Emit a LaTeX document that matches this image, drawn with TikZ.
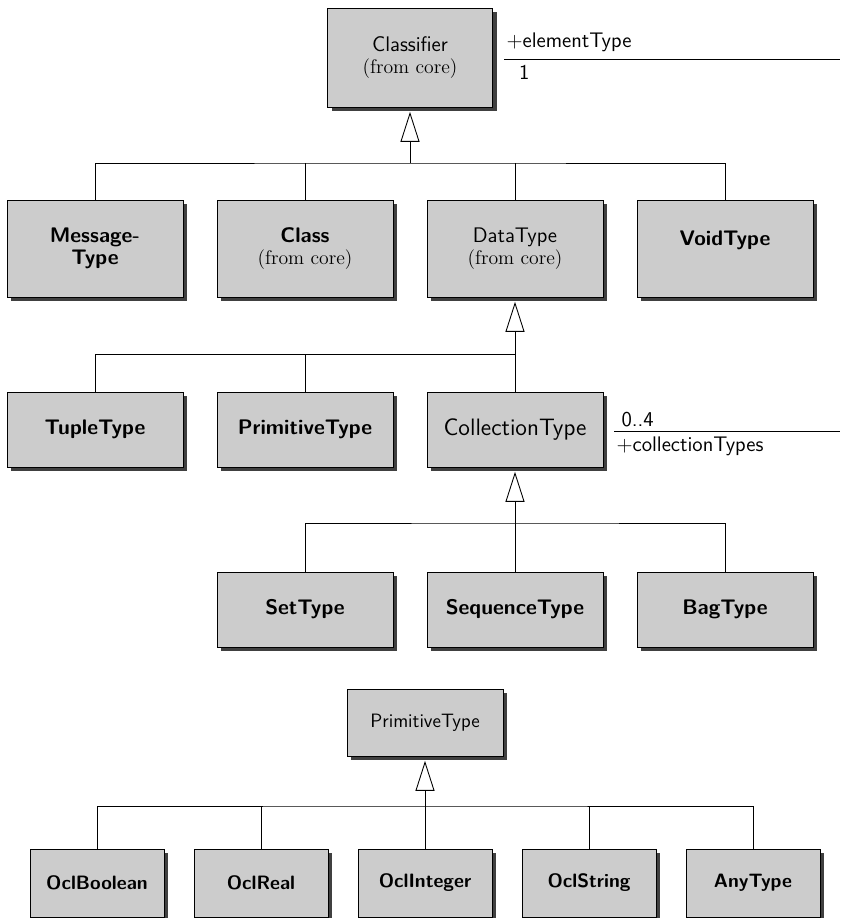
\documentclass[tikz,border=0pt]{standalone}
\usetikzlibrary{arrows.meta,shadows}

\newcommand{\fromcore}{{\fontsize{11.2}{12.5}\selectfont\rmfamily (from core)}}

\begin{document}
\begin{tikzpicture}[
    umlclass/.style={draw,fill=black!20,line width=0.5pt,align=center,inner sep=0pt,
        font=\fontsize{12}{12.5}\selectfont\sffamily,
        drop shadow={shadow xshift=0.085cm,shadow yshift=-0.085cm,fill=black!75,opacity=1}},
    bigbox/.style={umlclass,minimum width=3.52cm,minimum height=1.94cm},
    midbox/.style={umlclass,minimum width=3.52cm,minimum height=1.5cm},
    smallbox/.style={umlclass,minimum width=2.68cm,minimum height=1.36cm,
        font=\fontsize{11}{12}\selectfont\sffamily},
    gen/.style={-{Triangle[open,width=0.38cm,length=0.6cm]},line width=0.5pt,shorten >=2.5pt},
    assoc/.style={line width=0.5pt},
    role/.style={font=\fontsize{12}{13}\selectfont\sffamily,inner sep=1pt}]
    \useasboundingbox (0,0) rectangle (16.8,-18.36);
    %% top
    \node[umlclass,minimum width=3.3cm,minimum height=1.98cm] (classifier) at (8.2,-1.15)
        {Classifier\\\fromcore};
    %% second row
    \node[bigbox] (msg) at (1.9,-4.97) {\bfseries Message-\\\bfseries Type};
    \node[bigbox] (cls) at (6.1,-4.97) {\bfseries Class\\\fromcore};
    \node[bigbox] (dt) at (10.3,-4.97) {DataType\\\fromcore};
    \node[bigbox,text depth=0.4cm] (void) at (14.5,-4.97) {\bfseries VoidType};
    %% third row
    \node[midbox] (tuple) at (1.9,-8.59) {\bfseries TupleType};
    \node[midbox] (prim) at (6.1,-8.59) {\bfseries PrimitiveType};
    \node[midbox,font=\fontsize{13.5}{15}\selectfont\sffamily] (coll) at (10.3,-8.59) {CollectionType};
    %% collections
    \node[midbox] (set) at (6.1,-12.19) {\bfseries SetType};
    \node[midbox] (seq) at (10.3,-12.19) {\bfseries SequenceType};
    \node[midbox] (bag) at (14.5,-12.19) {\bfseries BagType};
    %% primitive types
    \node[smallbox,minimum width=3.12cm,minimum height=1.34cm] (prim2) at (8.5,-14.45)
        {PrimitiveType};
    \node[smallbox] (bool) at (1.94,-17.66) {\bfseries OclBoolean};
    \node[smallbox] (real) at (5.22,-17.66) {\bfseries OclReal};
    \node[smallbox] (int) at (8.5,-17.66) {\bfseries OclInteger};
    \node[smallbox] (str) at (11.78,-17.66) {\bfseries OclString};
    \node[smallbox] (any) at (15.06,-17.66) {\bfseries AnyType};

    %% generalizations
    \coordinate (j1) at (8.2,-3.26);
    \draw[gen] (j1) -- (classifier.south);
    \draw (msg.north) |- (j1) -| (void.north);
    \draw (cls.north) -- (cls.north |- j1);
    \draw (dt.north) -- (dt.north |- j1);

    \coordinate (j2) at (10.3,-7.08);
    \draw[gen] (j2) -- (dt.south);
    \draw (tuple.north) |- (j2) -- (coll.north);
    \draw (prim.north) -- (prim.north |- j2);

    \coordinate (j3) at (10.3,-10.46);
    \draw[gen] (j3) -- (coll.south);
    \draw (set.north) |- (j3) -| (bag.north);
    \draw (seq.north) -- (j3);

    \coordinate (j4) at (8.5,-16.12);
    \draw[gen] (j4) -- (prim2.south);
    \draw (bool.north) |- (j4) -| (any.north);
    \foreach \n in {real,int,str}
        \draw (\n.north) -- (\n.north |- j4);

    %% associations
    \coordinate (rim) at (16.8,0);
    \coordinate (a1) at ([xshift=0.23cm,yshift=-0.03cm]classifier.east);
    \draw[assoc] (a1) -- (a1 -| rim);
    \node[role,anchor=south west] (elrole) at ([yshift=0.1cm]a1) {$+$elementType};
    \node[role,anchor=north west] (elmult) at ([xshift=0.25cm,yshift=-0.08cm]a1) {1};
    \coordinate (a2) at ([xshift=0.22cm,yshift=-0.03cm]coll.east);
    \draw[assoc] (a2) -- (a2 -| rim);
    \node[role,anchor=south west] (colmult) at ([xshift=0.1cm,yshift=0.03cm]a2) {0..4};
    \node[role,anchor=north west] (colrole) at ([yshift=-0.08cm]a2) {$+$collectionTypes};
\end{tikzpicture}
\end{document}
